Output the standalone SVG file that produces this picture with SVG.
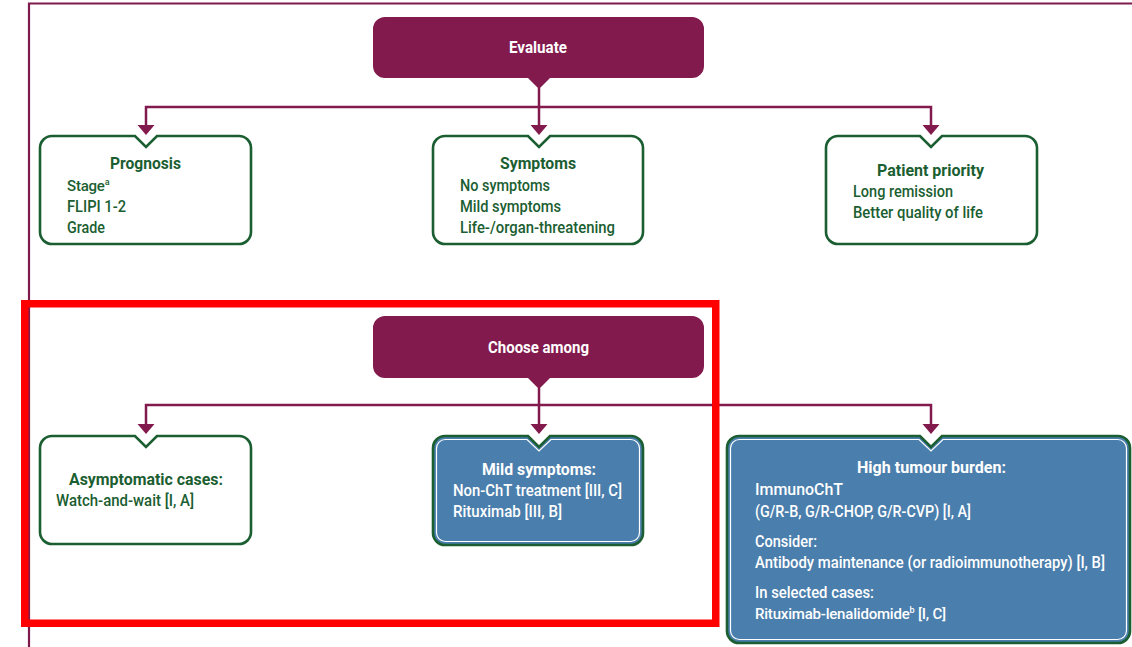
<svg xmlns="http://www.w3.org/2000/svg" width="1132" height="647" viewBox="0 0 1132 647">
<style>
text{font-family:Roboto,"Liberation Sans",sans-serif;font-size:16px}
.frame{fill:none;stroke:#7f1a4d;stroke-width:2.2}
.head{fill:#821a4d}
.htxt{font-weight:bold;fill:#ffffff;text-anchor:middle}
.wbox{fill:#ffffff;stroke:#1b5e31;stroke-width:2.6}
.bbox{fill:#4a7eac;stroke:#1b5e31;stroke-width:2.6}
.inner{fill:none;stroke:#ffffff;stroke-width:1.2}
.gt{font-weight:500;fill:#1b5e31}
.gtb{font-weight:bold;fill:#1b5e31;text-anchor:middle}
.wt{font-weight:500;fill:#ffffff}
.wtb{font-weight:bold;fill:#ffffff;text-anchor:middle}
.sm{font-size:15px;letter-spacing:-0.2px}
.sup{font-size:9px}
.conn{fill:none;stroke:#821a4d;stroke-width:2.5}
.arr{fill:#821a4d}
.hl{fill:none;stroke:#ff0000;stroke-width:7.5}
</style>
<path class="frame" d="M29,647 V3.5 H1132"/>
<g id="connectors">
<path class="conn" d="M539,88 V126 M146,126 V107 H931 V126"/>
<polygon class="arr" points="137.5,125 154.5,125 146,135"/>
<polygon class="arr" points="530.5,125 547.5,125 539,135"/>
<polygon class="arr" points="922.5,125 939.5,125 931,135"/>
<path class="conn" d="M539,388 V425 M146,425 V405 H931 V425"/>
<polygon class="arr" points="137.5,424 154.5,424 146,434"/>
<polygon class="arr" points="530.5,424 547.5,424 539,434"/>
<polygon class="arr" points="922.5,424 939.5,424 931,434"/>
</g>
<g id="evaluate">
<path class="head" d="M385,17 H692 A12,12 0 0 1 704,29 V66 A12,12 0 0 1 692,78 H550 L539,89 L528,78 H385 A12,12 0 0 1 373,66 V29 A12,12 0 0 1 385,17 Z"/>
<text class="htxt" x="538" y="53" textLength="58" lengthAdjust="spacingAndGlyphs">Evaluate</text>
</g>
<g id="prognosis">
<path class="wbox" d="M52,136 H135 L146,147 L157,136 H239 A12,12 0 0 1 251,148 V232 A12,12 0 0 1 239,244 H52 A12,12 0 0 1 40,232 V148 A12,12 0 0 1 52,136 Z"/>
<text class="gtb" x="145.5" y="169" textLength="71" lengthAdjust="spacingAndGlyphs">Prognosis</text>
<text class="gt sm" x="67" y="191">Stage<tspan class="sup" dy="-6">a</tspan></text>
<text class="gt" x="67" y="212" textLength="59" lengthAdjust="spacingAndGlyphs">FLIPI 1-2</text>
<text class="gt" x="67" y="233" textLength="38" lengthAdjust="spacingAndGlyphs">Grade</text>
</g>
<g id="symptoms">
<path class="wbox" d="M445,136 H528 L539,147 L550,136 H631 A12,12 0 0 1 643,148 V232 A12,12 0 0 1 631,244 H445 A12,12 0 0 1 433,232 V148 A12,12 0 0 1 445,136 Z"/>
<text class="gtb" x="538" y="169" textLength="76" lengthAdjust="spacingAndGlyphs">Symptoms</text>
<text class="gt" x="460" y="191" textLength="90" lengthAdjust="spacingAndGlyphs">No symptoms</text>
<text class="gt" x="460" y="212" textLength="101" lengthAdjust="spacingAndGlyphs">Mild symptoms</text>
<text class="gt" x="460" y="233" textLength="155" lengthAdjust="spacingAndGlyphs">Life-/organ-threatening</text>
</g>
<g id="priority">
<path class="wbox" d="M838,136 H920 L931,147 L942,136 H1025 A12,12 0 0 1 1037,148 V232 A12,12 0 0 1 1025,244 H838 A12,12 0 0 1 826,232 V148 A12,12 0 0 1 838,136 Z"/>
<text class="gtb" x="930.5" y="176" textLength="107" lengthAdjust="spacingAndGlyphs">Patient priority</text>
<text class="gt" x="853" y="197" textLength="100" lengthAdjust="spacingAndGlyphs">Long remission</text>
<text class="gt" x="853" y="218" textLength="130" lengthAdjust="spacingAndGlyphs">Better quality of life</text>
</g>
<g id="choose">
<path class="head" d="M385,316 H692 A12,12 0 0 1 704,328 V366 A12,12 0 0 1 692,378 H550 L539,389 L528,378 H385 A12,12 0 0 1 373,366 V328 A12,12 0 0 1 385,316 Z"/>
<text class="htxt" x="538.5" y="353" textLength="101" lengthAdjust="spacingAndGlyphs">Choose among</text>
</g>
<g id="asymptomatic">
<path class="wbox" d="M52,436 H135 L146,447 L157,436 H239 A12,12 0 0 1 251,448 V532 A12,12 0 0 1 239,544 H52 A12,12 0 0 1 40,532 V448 A12,12 0 0 1 52,436 Z"/>
<text class="gtb" x="146" y="485" textLength="154" lengthAdjust="spacingAndGlyphs">Asymptomatic cases:</text>
<text class="gt" x="56" y="506" textLength="138" lengthAdjust="spacingAndGlyphs">Watch-and-wait [I, A]</text>
</g>
<g id="mild">
<path class="bbox" d="M445,436 H528 L539,447 L550,436 H631 A12,12 0 0 1 643,448 V533 A12,12 0 0 1 631,545 H445 A12,12 0 0 1 433,533 V448 A12,12 0 0 1 445,436 Z"/>
<path class="inner" d="M446,439.5 H527 L539,451 L551,439.5 H630 A9,9 0 0 1 639.5,449 V532 A9,9 0 0 1 630,541.5 H446 A9,9 0 0 1 436.5,532 V449 A9,9 0 0 1 446,439.5 Z"/>
<text class="wtb" x="539" y="475" textLength="114" lengthAdjust="spacingAndGlyphs">Mild symptoms:</text>
<text class="wt" x="453" y="496" textLength="169" lengthAdjust="spacingAndGlyphs">Non-ChT treatment [III, C]</text>
<text class="wt" x="453" y="517" textLength="109" lengthAdjust="spacingAndGlyphs">Rituximab [III, B]</text>
</g>
<g id="high">
<path class="bbox" d="M739,436 H920 L931,447 L942,436 H1118 A12,12 0 0 1 1130,448 V631 A12,12 0 0 1 1118,643 H739 A12,12 0 0 1 727,631 V448 A12,12 0 0 1 739,436 Z"/>
<path class="inner" d="M740,439.5 H919 L931,451 L943,439.5 H1117 A9,9 0 0 1 1126.5,449 V630 A9,9 0 0 1 1117,639.5 H740 A9,9 0 0 1 730.5,630 V449 A9,9 0 0 1 740,439.5 Z"/>
<text class="wtb" x="931.5" y="473" textLength="149" lengthAdjust="spacingAndGlyphs">High tumour burden:</text>
<text class="wt" x="755" y="495" textLength="88" lengthAdjust="spacingAndGlyphs">ImmunoChT</text>
<text class="wt" x="755" y="517" textLength="216" lengthAdjust="spacingAndGlyphs">(G/R-B, G/R-CHOP, G/R-CVP) [I, A]</text>
<text class="wt" x="755" y="547" textLength="62" lengthAdjust="spacingAndGlyphs">Consider:</text>
<text class="wt" x="755" y="568" textLength="350" lengthAdjust="spacingAndGlyphs">Antibody maintenance (or radioimmunotherapy) [I, B]</text>
<text class="wt" x="755" y="598" textLength="119" lengthAdjust="spacingAndGlyphs">In selected cases:</text>
<text class="wt sm" x="755" y="619">Rituximab-lenalidomide<tspan class="sup" dy="-6">b</tspan><tspan dy="6"> [I, C]</tspan></text>
</g>
<rect class="hl" x="24.75" y="303.75" width="691" height="319.5"/>
</svg>
